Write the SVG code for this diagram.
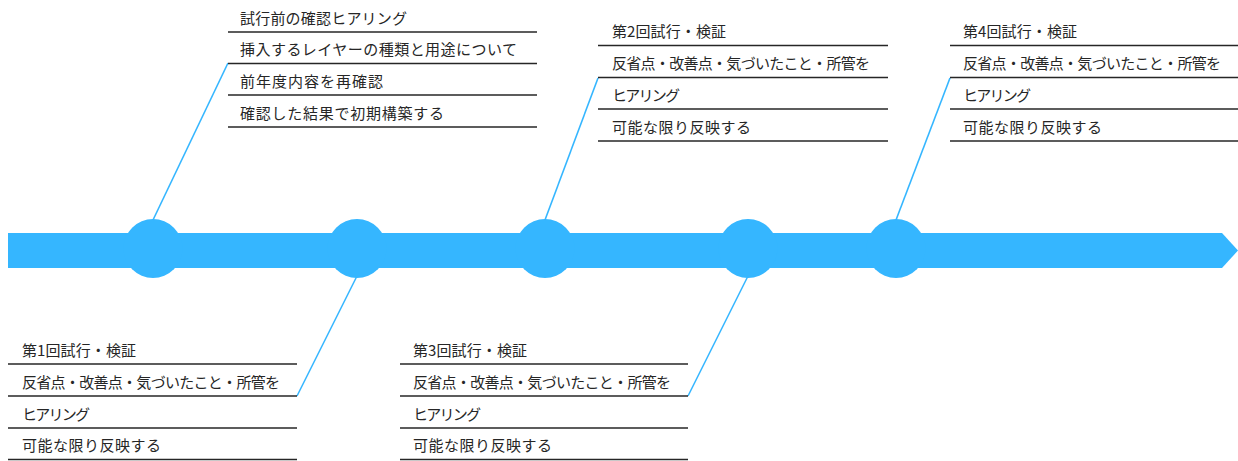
<svg xmlns="http://www.w3.org/2000/svg" width="1238" height="461" viewBox="0 0 1238 461">
<style>
.bar{fill:#35B6FF}
.dot{fill:#35B6FF}
.con{stroke:#35B6FF;stroke-width:1.6;fill:none}
.rule{stroke:#262626;stroke-width:1.6}
.t{font-family:"Noto Sans CJK JP","Noto Sans",sans-serif;font-size:15px;fill:#262626}
</style>
<rect width="1238" height="461" fill="#ffffff"/>
<g id="timeline">
<polygon class="bar" points="8,233 1222,233 1238,250.5 1222,268 8,268"/>
</g>
<g id="connectors">
<line class="con" x1="228" y1="63" x2="153" y2="220"/>
<line class="con" x1="297" y1="396" x2="357" y2="276"/>
<line class="con" x1="598" y1="78" x2="545" y2="220"/>
<line class="con" x1="688" y1="396" x2="748" y2="276"/>
<line class="con" x1="950" y1="78" x2="896" y2="220"/>
</g>
<g id="dot1"><circle class="dot" cx="153" cy="248.5" r="29.5"/></g>
<g id="dot2"><circle class="dot" cx="357" cy="248.5" r="29.5"/></g>
<g id="dot3"><circle class="dot" cx="545" cy="248.5" r="29.5"/></g>
<g id="dot4"><circle class="dot" cx="748" cy="248.5" r="29.5"/></g>
<g id="dot5"><circle class="dot" cx="896" cy="248.5" r="29.5"/></g>
<g id="note0">
<line class="rule" x1="228" y1="32" x2="537" y2="32"/>
<line class="rule" x1="228" y1="63.5" x2="537" y2="63.5"/>
<line class="rule" x1="228" y1="95" x2="537" y2="95"/>
<line class="rule" x1="228" y1="127" x2="537" y2="127"/>
<text class="t" x="240" y="23.5" textLength="167">試行前の確認ヒアリング</text>
<text class="t" x="240" y="55" textLength="277">挿入するレイヤーの種類と用途について</text>
<text class="t" x="240" y="86.5" textLength="143">前年度内容を再確認</text>
<text class="t" x="240" y="118.5" textLength="204">確認した結果で初期構築する</text>
</g>
<g id="note1">
<line class="rule" x1="8" y1="364" x2="297" y2="364"/>
<line class="rule" x1="8" y1="396" x2="297" y2="396"/>
<line class="rule" x1="8" y1="428" x2="297" y2="428"/>
<line class="rule" x1="8" y1="459.5" x2="297" y2="459.5"/>
<text class="t" x="22" y="355.5" textLength="114">第1回試行・検証</text>
<text class="t" x="22" y="387.5" textLength="258">反省点・改善点・気づいたこと・所管を</text>
<text class="t" x="22" y="419.5" textLength="68">ヒアリング</text>
<text class="t" x="22" y="451" textLength="139">可能な限り反映する</text>
</g>
<g id="note2">
<line class="rule" x1="598" y1="45.5" x2="888" y2="45.5"/>
<line class="rule" x1="598" y1="77.5" x2="888" y2="77.5"/>
<line class="rule" x1="598" y1="109" x2="888" y2="109"/>
<line class="rule" x1="598" y1="141" x2="888" y2="141"/>
<text class="t" x="612" y="37" textLength="114">第2回試行・検証</text>
<text class="t" x="612" y="69" textLength="258">反省点・改善点・気づいたこと・所管を</text>
<text class="t" x="612" y="100.5" textLength="68">ヒアリング</text>
<text class="t" x="612" y="132.5" textLength="139">可能な限り反映する</text>
</g>
<g id="note3">
<line class="rule" x1="400" y1="364" x2="688" y2="364"/>
<line class="rule" x1="400" y1="396" x2="688" y2="396"/>
<line class="rule" x1="400" y1="428" x2="688" y2="428"/>
<line class="rule" x1="400" y1="459.5" x2="688" y2="459.5"/>
<text class="t" x="413" y="355.5" textLength="114">第3回試行・検証</text>
<text class="t" x="413" y="387.5" textLength="258">反省点・改善点・気づいたこと・所管を</text>
<text class="t" x="413" y="419.5" textLength="68">ヒアリング</text>
<text class="t" x="413" y="451" textLength="139">可能な限り反映する</text>
</g>
<g id="note4">
<line class="rule" x1="950" y1="45.5" x2="1238" y2="45.5"/>
<line class="rule" x1="950" y1="77.5" x2="1238" y2="77.5"/>
<line class="rule" x1="950" y1="109" x2="1238" y2="109"/>
<line class="rule" x1="950" y1="141" x2="1238" y2="141"/>
<text class="t" x="963" y="37" textLength="114">第4回試行・検証</text>
<text class="t" x="963" y="69" textLength="258">反省点・改善点・気づいたこと・所管を</text>
<text class="t" x="963" y="100.5" textLength="68">ヒアリング</text>
<text class="t" x="963" y="132.5" textLength="139">可能な限り反映する</text>
</g>
</svg>
